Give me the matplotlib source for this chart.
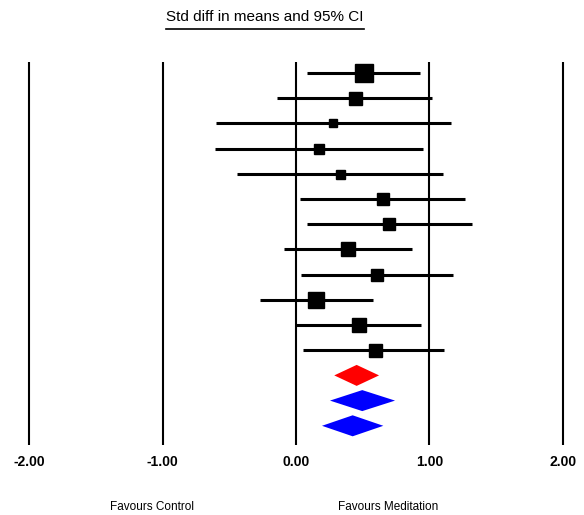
import matplotlib
matplotlib.use('Agg')
import matplotlib.pyplot as plt
from matplotlib.patches import Polygon
from matplotlib.lines import Line2D

# Study-level std diff in means with 95% CI
est = [0.51, 0.44, 0.28, 0.17, 0.33, 0.65, 0.70, 0.39, 0.61, 0.15, 0.47, 0.59]
lo = [0.08, -0.145, -0.60, -0.61, -0.44, 0.03, 0.08, -0.09, 0.04, -0.27, 0.00, 0.05]
hi = [0.93, 1.02, 1.16, 0.95, 1.10, 1.27, 1.32, 0.87, 1.18, 0.58, 0.94, 1.11]
box = [18, 13, 8, 10, 9, 12, 12, 14, 12, 16, 14, 13]  # marker size (px), study weight

# Pooled estimates (diamonds)
pool_est = [0.455, 0.497, 0.425]
pool_lo = [0.287, 0.255, 0.195]
pool_hi = [0.623, 0.743, 0.655]
pool_col = ['#ff0000', '#0000ff', '#0000ff']

ticks = [-2, -1, 0, 1, 2]
tick_labels = ['-2.00', '-1.00', '0.00', '1.00', '2.00']

plt.rcParams['font.family'] = ['Liberation Sans', 'DejaVu Sans']

fig = plt.figure(figsize=(5.84, 5.15), dpi=100)
ax = fig.add_axes([0, 0, 1, 1])
# 0.00 at px 296, 133.3 px per unit; row 0 at px 73, 25.2 px per row
ax.set_xlim(-296 / 133.3, 288 / 133.3)
ax.set_ylim((515 - 73) / 25.2, -73 / 25.2)
ax.axis('off')

top, bottom = (62 - 73) / 25.2, (445 - 73) / 25.2
ax.vlines(ticks, top, bottom, color='black', lw=1.5)

for i in range(len(est)):
    ax.plot([lo[i], hi[i]], [i, i], color='black', lw=2.2, solid_capstyle='butt')
    ax.plot(est[i], i, marker='s', ms=box[i] * 0.72, color='black', mec='black')

h = 10.5 / 25.2
for j in range(len(pool_est)):
    r = len(est) + j
    ax.add_patch(Polygon([[pool_lo[j], r], [pool_est[j], r - h],
                          [pool_hi[j], r], [pool_est[j], r + h]],
                         closed=True, fc=pool_col[j], ec='none'))

tick_y = (462 - 73) / 25.2
for t, lab in zip(ticks, tick_labels):
    ax.text(t, tick_y, lab, ha='center', va='center', fontsize=10, fontweight='bold')

lab_y = (507 - 73) / 25.2
ax.text((152 - 296) / 133.3, lab_y, 'Favours Control', ha='center', va='center', fontsize=8.5)
ax.text((388 - 296) / 133.3, lab_y, 'Favours Meditation', ha='center', va='center', fontsize=8.5)

title = fig.text(265 / 584, 1 - 17 / 515, 'Std diff in means and 95% CI',
                 ha='center', va='center', fontsize=11)
fig.canvas.draw()
bb = title.get_window_extent()
uy = 1 - 29 / 515
fig.add_artist(Line2D([bb.x0 / 584, bb.x1 / 584], [uy, uy], color='black', lw=1.2,
                      transform=fig.transFigure))

fig.savefig('out.png', dpi=100)
